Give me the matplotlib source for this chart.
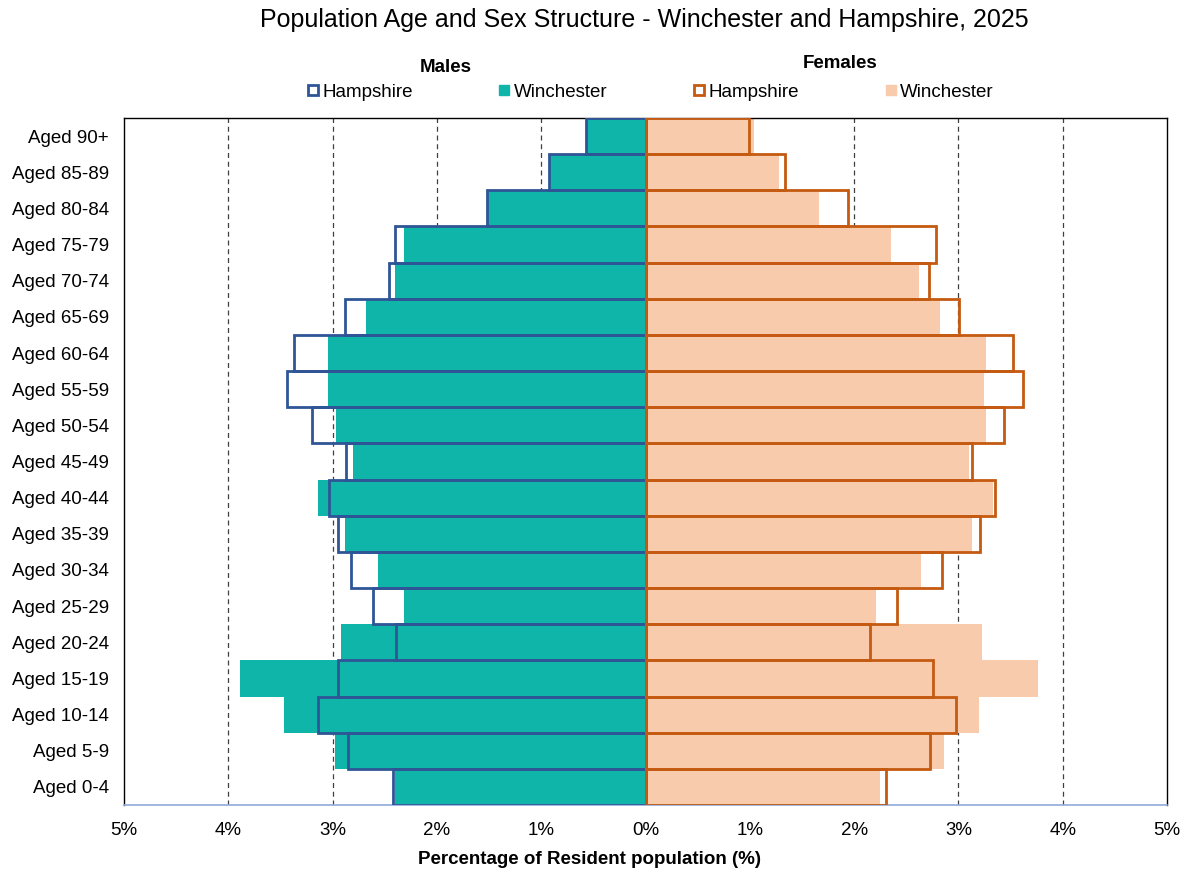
import matplotlib
matplotlib.use("Agg")
import matplotlib.pyplot as plt
from matplotlib.lines import Line2D
from matplotlib.ticker import FuncFormatter

plt.rcParams['font.family'] = ['Liberation Sans', 'DejaVu Sans']

age_groups = ["Aged 0-4", "Aged 5-9", "Aged 10-14", "Aged 15-19", "Aged 20-24",
              "Aged 25-29", "Aged 30-34", "Aged 35-39", "Aged 40-44", "Aged 45-49",
              "Aged 50-54", "Aged 55-59", "Aged 60-64", "Aged 65-69", "Aged 70-74",
              "Aged 75-79", "Aged 80-84", "Aged 85-89", "Aged 90+"]

male_hampshire = [2.42, 2.85, 3.14, 2.95, 2.39, 2.61, 2.82, 2.95, 3.03, 2.87,
                  3.20, 3.44, 3.37, 2.88, 2.46, 2.40, 1.52, 0.93, 0.57]
male_winchester = [2.40, 2.98, 3.47, 3.89, 2.92, 2.32, 2.56, 2.88, 3.14, 2.80,
                   2.97, 3.04, 3.04, 2.68, 2.40, 2.32, 1.51, 0.92, 0.56]
female_hampshire = [2.31, 2.73, 2.98, 2.76, 2.15, 2.41, 2.84, 3.21, 3.35, 3.13,
                    3.44, 3.62, 3.52, 3.01, 2.72, 2.79, 1.94, 1.34, 0.99]
female_winchester = [2.25, 2.86, 3.20, 3.76, 3.23, 2.21, 2.64, 3.13, 3.33, 3.10,
                     3.26, 3.25, 3.26, 2.82, 2.62, 2.35, 1.66, 1.28, 1.04]

x_ticks = [-5, -4, -3, -2, -1, 0, 1, 2, 3, 4, 5]

teal = "#10B5A9"
peach = "#F8CBAD"
blue = "#2F5597"
orange = "#C55A11"
fs = 13.5

fig = plt.figure(figsize=(11.89, 8.72), dpi=100)
ax = fig.add_axes([124/1189, 1 - 805/872, (1167 - 124)/1189, (805 - 118)/872])

y = list(range(len(age_groups)))

ax.barh(y, [-v for v in male_winchester], height=1.0, color=teal, zorder=2)
ax.barh(y, female_winchester, height=1.0, color=peach, zorder=2)
ax.barh(y, [-v for v in male_hampshire], height=1.0, fill=False, edgecolor=blue,
        linewidth=2.0, zorder=3)
ax.barh(y, female_hampshire, height=1.0, fill=False, edgecolor=orange,
        linewidth=2.0, zorder=3)

ax.set_xlim(-5, 5)
ax.set_ylim(-0.5, len(age_groups) - 0.5)
ax.set_xticks(x_ticks)
ax.xaxis.set_major_formatter(FuncFormatter(lambda v, p: f"{abs(int(round(v)))}%"))
ax.set_yticks(y)
ax.set_yticklabels(age_groups)
ax.tick_params(axis='y', length=0, pad=11, labelsize=fs)
ax.tick_params(axis='x', length=0, pad=12, labelsize=fs)

for t in x_ticks:
    if t not in (-5, 0, 5):
        ax.axvline(t, color="#404040", linestyle=(0, (4, 3)), linewidth=0.9, zorder=1)

for s in ("left", "top", "right"):
    ax.spines[s].set_color("black")
    ax.spines[s].set_linewidth(1.0)
ax.spines["bottom"].set_color("#8FAADC")
ax.spines["bottom"].set_linewidth(1.2)

fig.text(644/1189, 1 - 20/872, "Population Age and Sex Structure - Winchester and Hampshire, 2025",
         ha="center", va="center", fontsize=18)
fig.text(590/1189, 1 - 859/872, "Percentage of Resident population (%)",
         ha="center", va="center", fontsize=fs, fontweight="bold")
fig.text(446/1189, 1 - 68/872, "Males", ha="center", va="center", fontsize=fs, fontweight="bold")
fig.text(840/1189, 1 - 64/872, "Females", ha="center", va="center", fontsize=fs, fontweight="bold")

handles = [
    Line2D([], [], linestyle="none", marker="s", markersize=7, markerfacecolor="white",
           markeredgecolor=blue, markeredgewidth=2.0),
    Line2D([], [], linestyle="none", marker="s", markersize=7, markerfacecolor=teal,
           markeredgecolor=teal),
    Line2D([], [], linestyle="none", marker="s", markersize=7, markerfacecolor="white",
           markeredgecolor=orange, markeredgewidth=2.0),
    Line2D([], [], linestyle="none", marker="s", markersize=7, markerfacecolor=peach,
           markeredgecolor=peach),
]
labels = ["Hampshire", "Winchester", "Hampshire", "Winchester"]
fig.legend(handles, labels, ncol=4, loc="center left",
           bbox_to_anchor=(307/1189, 1 - 92/872), frameon=False, fontsize=fs,
           handlelength=0.6, handletextpad=0.2, columnspacing=4.6,
           borderpad=0, borderaxespad=0)

fig.savefig("out.png", dpi=100)
